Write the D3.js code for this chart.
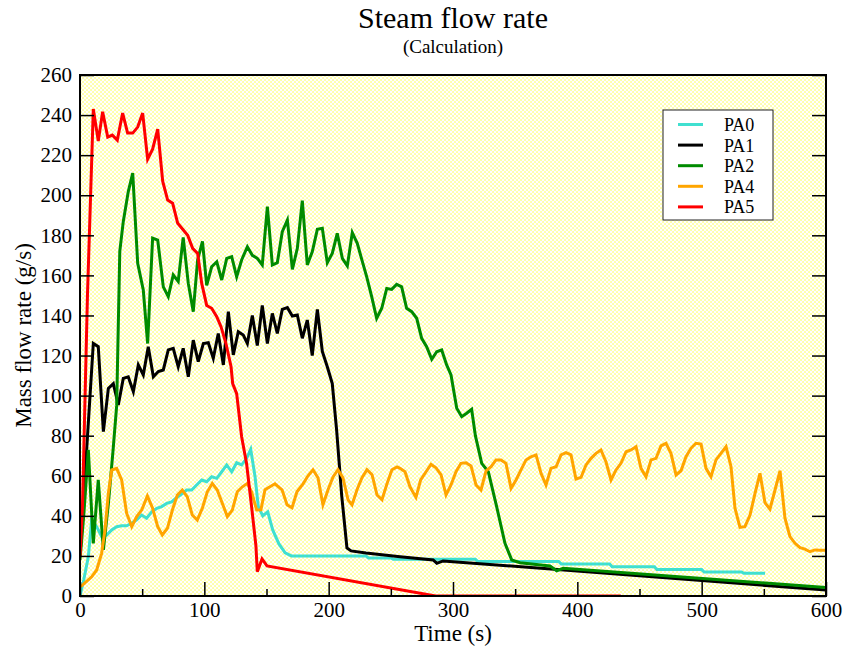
<!DOCTYPE html>
<html>
<head>
<meta charset="utf-8">
<script src="https://cdn.jsdelivr.net/npm/d3@7"></script>
<style>
  html, body { margin: 0; padding: 0; background: #fff; }
  svg text { font-family: "Liberation Serif", "Times New Roman", serif; }
</style>
</head>
<body>
<svg id="chart" width="843" height="647"></svg>
<script>
// ---- Data: steam mass flow rate (g/s) versus time (s) ----
const seriesNames = ["PA0", "PA1", "PA2", "PA4", "PA5"];
const seriesColors = ["#40E0D0", "#000000", "#008B00", "#FFA500", "#FF0000"];

const pa0Time = [0, 3, 6.7, 9.4, 13.4, 17.4, 21.4, 25.5, 29.5, 33.5, 37.5, 41.6, 45.6, 49.6, 53.6, 57.7, 61.7, 65.7, 69.7, 73.7, 77.8, 81.8, 85.8, 89.8, 93.8, 97.9, 101.9, 105.9, 110, 114, 118, 122, 126, 130, 134, 137.3, 140.8, 143.4, 147, 151, 155, 160, 165, 170, 230, 232, 250, 252, 318, 320, 385, 387, 426, 428, 462, 464, 500, 502, 532, 534, 551];
const pa0Flow = [0, 8, 19.6, 38, 34.6, 29.6, 30.4, 33, 34.6, 35, 35, 36.3, 38, 40.4, 38.8, 42, 43.7, 44.6, 46.2, 47, 49.2, 50.9, 52.9, 52.9, 55.4, 57.9, 57, 59.5, 58.7, 62, 65.4, 62, 66.5, 65.4, 68.7, 73.2, 59.5, 44.6, 40, 42, 33, 26, 21.5, 20, 20, 19, 19, 18.3, 18.3, 17.2, 17.2, 16, 16, 14.6, 14.6, 13.2, 13.2, 12, 12, 11.3, 11.3];

const pa1Time = [0, 10.7, 14.7, 18.8, 22.8, 26.8, 30.8, 34.8, 38.8, 42.9, 46.9, 50.9, 54.9, 59, 63, 67, 71, 75, 79, 83, 87.1, 91.1, 95.1, 99.2, 103.2, 107.2, 111.2, 115.3, 119.3, 123.3, 127.3, 131.3, 134.6, 138.6, 142.6, 146.6, 150.7, 154.7, 158.7, 162.7, 166.8, 170.8, 174.8, 178.8, 182.8, 186.8, 190.9, 194.9, 198.9, 202.9, 206.4, 210.5, 214.7, 218, 230, 257.4, 284, 287, 292, 600];
const pa1Flow = [20, 126, 124.4, 82, 103.6, 106, 95.3, 108.6, 109.4, 102, 115.3, 110.3, 124.4, 109.4, 112, 112.8, 122.8, 123.6, 114.4, 123.6, 109.4, 127.7, 117, 126, 126.4, 118.6, 131, 115.3, 141.9, 120.3, 131.9, 130.2, 126, 140, 125, 145, 126, 141, 131, 143, 143.9, 139.7, 140.2, 128.6, 137.7, 120, 143, 122, 114.4, 106, 82.8, 50, 24, 22.5, 21.5, 19.6, 18, 16.3, 17.5, 3];

const pa2Time = [0, 3, 6.7, 10.7, 14.7, 18.8, 22.8, 26.5, 29.5, 32, 34.8, 38.8, 42.4, 46.4, 50.9, 54.4, 58.4, 62.5, 67, 71, 75, 79, 83, 87.1, 91.1, 94.6, 98.5, 101.9, 105.9, 110, 114, 118, 122, 126, 130, 134.6, 138.6, 142.6, 146.6, 150.7, 154.7, 158.7, 162.7, 166.8, 170.8, 174.8, 178.8, 182.8, 186.8, 190.9, 194.9, 198.9, 202.9, 206.9, 211, 215, 219, 223, 226.6, 230.6, 234.6, 238.6, 242.7, 246.7, 250.7, 254.7, 258.7, 262.7, 266.8, 270.8, 274.8, 278.8, 282.9, 286.9, 290.9, 294.9, 298.4, 303, 307, 311, 315, 318, 323.1, 328.4, 335.1, 341.8, 347.2, 353.9, 378, 383.4, 388.7, 600];
const pa2Flow = [18, 40, 72.9, 26.3, 57.9, 23, 46, 72, 95, 172, 186.8, 201.7, 211, 166, 152.7, 126, 178.6, 177.6, 154.3, 149.4, 160.2, 157, 179, 156, 141.9, 167.7, 177, 155, 164.3, 166.8, 157.7, 168.5, 169.3, 159.3, 167.7, 174.3, 170, 168.5, 165.2, 194.3, 165.2, 166.3, 181.8, 187.6, 163, 173.5, 197.3, 165.2, 171.8, 183, 183.5, 166.3, 171, 181, 168.5, 164.7, 181.3, 176, 168, 159.3, 149.4, 138.6, 143.6, 153.5, 153, 155.5, 154.3, 143.6, 141.9, 138.6, 128.6, 124.4, 118.1, 121.9, 122.8, 115.3, 110.3, 93.7, 89.5, 91.2, 93.2, 80, 66.2, 62, 44.6, 26.3, 18, 16.6, 15, 12.6, 13.8, 4.3];

const pa4Time = [0, 1.3, 9.4, 13.4, 17.4, 20.1, 22.8, 25.5, 29.5, 33.5, 37.5, 41.6, 45.6, 49.6, 54.2, 58.4, 62.5, 66.2, 70.3, 74.3, 78.3, 82.3, 86.3, 90.3, 94.3, 98.4, 102.4, 106.4, 110.4, 114.5, 118.5, 122.5, 126.5, 130.6, 134.6, 138, 142.1, 145.5, 148.8, 152.8, 156.8, 162.5, 166.5, 170.5, 174.5, 179.4, 183.4, 187.4, 191.4, 195.4, 199.5, 203.5, 207.5, 211.5, 215.6, 218.8, 222.8, 226.8, 230.8, 234.9, 238.9, 242.9, 246.9, 250.9, 255, 257.4, 261.4, 265.4, 270.2, 274, 278.3, 282.3, 286.3, 290.4, 294.4, 298.4, 302.4, 306.4, 310.5, 314.5, 318.5, 322.5, 326.6, 330.6, 334.6, 338.6, 342.6, 346.7, 350.7, 354.7, 358.7, 362.7, 366.8, 370.8, 374.8, 378.8, 382.9, 386.9, 390.9, 394.9, 398.9, 403, 407, 411, 415, 419, 423, 427.1, 431.1, 435.1, 439.2, 443.2, 447.2, 451.2, 455.2, 459.3, 463.3, 467.3, 471.3, 475.3, 479.4, 483.4, 487.4, 491.4, 495.4, 499.5, 503.5, 507.5, 511.5, 515.5, 519.6, 523.6, 526.8, 530.8, 534.8, 538.9, 542.9, 546.9, 550.9, 554.9, 559, 563, 567, 571, 575.1, 579.1, 583.1, 587.1, 591.2, 595, 600];
const pa4Flow = [5, 5.1, 9.6, 13, 21.3, 33, 51.2, 62.9, 63.7, 57.9, 41.3, 34.6, 39.6, 42.9, 49.9, 43.8, 34.6, 30.4, 33.8, 42.9, 50.4, 52.9, 49.5, 40.4, 37.9, 43.8, 52, 56.2, 52.9, 46.2, 39.6, 42.9, 52, 54.5, 56.2, 52, 42.9, 43, 53, 54.5, 56, 53, 45.5, 44, 52, 56, 60, 63, 59, 45.5, 53, 59.4, 63, 59, 48, 45.5, 53, 59, 63, 60.5, 50.4, 48, 56, 63, 64.4, 63.7, 62, 54.5, 49.2, 57.9, 62, 65.7, 64, 60.4, 50.4, 55.4, 62, 66.2, 66.5, 64.9, 55.4, 52.9, 62.5, 64.5, 67.9, 67.9, 66.2, 53.7, 57.9, 62.9, 67.9, 69.5, 70.4, 61.2, 55.4, 63.7, 64.5, 70.4, 71.5, 70.4, 58.4, 59.2, 65.4, 68.7, 71.2, 72.9, 67, 57.9, 62.9, 66.2, 72, 72.9, 74.5, 63.7, 59.5, 67.9, 68.7, 74.9, 76.2, 71.2, 60.4, 62.5, 69.5, 73.7, 76.2, 75.8, 63.7, 59.5, 67.9, 71.2, 74.5, 64.5, 43.8, 34.3, 34.6, 40.4, 51.2, 61.2, 46.6, 43.3, 52.9, 62.5, 38.8, 29.6, 26.3, 24.1, 23.4, 22.1, 23, 22.8, 22.8];

const pa5Time = [0, 2, 6, 10.7, 14.7, 18.2, 22.3, 26, 30, 34.3, 38.3, 42.4, 46.4, 50.4, 54.4, 58.4, 62.5, 66.5, 70.5, 74.5, 78.6, 82.6, 86.6, 90.6, 94.6, 97.9, 101.9, 105.9, 110, 113.4, 117.4, 121.5, 122.8, 126, 130, 134, 138, 141.5, 142.6, 146.4, 150.4, 286, 435];
const pa5Flow = [19.6, 45, 150, 243, 227, 241.7, 229, 230, 227.5, 241, 231, 231, 234, 241, 218, 223, 233, 207, 197.6, 196, 186, 183, 180, 173.5, 171, 156, 145, 143.6, 139.4, 134.4, 126, 114.4, 106, 101, 79.5, 66, 44.6, 25, 12.1, 18.5, 15, 0, 0];

const xTicks = [0, 100, 200, 300, 400, 500, 600];
const xMinorTicks = [50, 150, 250, 350, 450, 550];
const yTicks = [0, 20, 40, 60, 80, 100, 120, 140, 160, 180, 200, 220, 240, 260];

const titleText = "Steam flow rate";
const subtitleText = "(Calculation)";
const xLabel = "Time (s)";
const yLabel = "Mass flow rate (g/s)";

// ---- Layout ----
const serif = "'Liberation Serif', 'Times New Roman', serif";
const svg = d3.select("#chart");
const plot = { left: 80, right: 826, top: 75, bottom: 596 };

const x = d3.scaleLinear().domain([0, 600]).range([plot.left, plot.right]);
const y = d3.scaleLinear().domain([0, 260]).range([plot.bottom, plot.top]);

// dotted yellow fill of the plotting area
const defs = svg.append("defs");
const pat = defs.append("pattern")
  .attr("id", "dots").attr("patternUnits", "userSpaceOnUse")
  .attr("x", plot.left).attr("y", plot.top)
  .attr("width", 4).attr("height", 4);
pat.append("rect").attr("width", 4).attr("height", 4).attr("fill", "#ffffff");
[[0.4, 0.4], [2.4, 2.4]].forEach(([px, py]) => {
  pat.append("rect").attr("x", px).attr("y", py).attr("width", 1.25).attr("height", 1.25)
    .attr("fill", "#ffff30");
});

defs.append("clipPath").attr("id", "plotClip")
  .append("rect")
  .attr("x", plot.left).attr("y", plot.top)
  .attr("width", plot.right - plot.left).attr("height", plot.bottom - plot.top);

svg.append("rect")
  .attr("x", plot.left).attr("y", plot.top)
  .attr("width", plot.right - plot.left).attr("height", plot.bottom - plot.top)
  .attr("fill", "url(#dots)");

// ---- Series ----
const series = [
  { name: seriesNames[0], color: seriesColors[0], t: pa0Time, v: pa0Flow },
  { name: seriesNames[1], color: seriesColors[1], t: pa1Time, v: pa1Flow },
  { name: seriesNames[2], color: seriesColors[2], t: pa2Time, v: pa2Flow },
  { name: seriesNames[3], color: seriesColors[3], t: pa4Time, v: pa4Flow },
  { name: seriesNames[4], color: seriesColors[4], t: pa5Time, v: pa5Flow }
];

const line = d3.line().x(d => x(d[0])).y(d => y(d[1]));
const linesG = svg.append("g").attr("clip-path", "url(#plotClip)");
series.forEach(s => {
  linesG.append("path")
    .datum(s.t.map((t, i) => [t, s.v[i]]))
    .attr("fill", "none")
    .attr("stroke", s.color)
    .attr("stroke-width", 3)
    .attr("stroke-linejoin", "miter")
    .attr("d", line);
});

// ---- Axes (ticks point into the plot) ----
const gx = svg.append("g").attr("transform", `translate(0,${plot.bottom})`)
  .call(d3.axisBottom(x).tickValues(xTicks).tickSizeInner(-14).tickSizeOuter(0).tickPadding(6).tickFormat(d3.format("d")));
const gxm = svg.append("g").attr("transform", `translate(0,${plot.bottom})`)
  .call(d3.axisBottom(x).tickValues(xMinorTicks).tickSizeInner(-7).tickSizeOuter(0).tickFormat(""));
const gy = svg.append("g").attr("transform", `translate(${plot.left},0)`)
  .call(d3.axisLeft(y).tickValues(yTicks).tickSizeInner(-14).tickSizeOuter(0).tickPadding(8).tickFormat(d3.format("d")));
const gyr = svg.append("g").attr("transform", `translate(${plot.right},0)`)
  .call(d3.axisRight(y).tickValues(yTicks).tickSizeInner(-14).tickSizeOuter(0).tickFormat(""));

[gx, gxm, gy, gyr].forEach(g => {
  g.attr("font-family", serif).attr("font-size", 21);
  g.select(".domain").remove();
  g.selectAll(".tick line").attr("stroke", "#000").attr("stroke-width", 1.5);
  g.selectAll(".tick text").attr("fill", "#000")
    .attr("font-family", serif).attr("font-size", 21);
});

// frame
svg.append("rect")
  .attr("x", plot.left).attr("y", plot.top)
  .attr("width", plot.right - plot.left).attr("height", plot.bottom - plot.top)
  .attr("fill", "none").attr("stroke", "#000").attr("stroke-width", 2);

// ---- Titles ----
const cx = (plot.left + plot.right) / 2;
const addText = (px, py, size, str) => svg.append("text")
  .attr("x", px).attr("y", py).attr("text-anchor", "middle")
  .attr("font-family", serif).attr("font-size", size).attr("fill", "#000").text(str);
addText(cx, 28, 30, titleText);
addText(cx, 53, 19, subtitleText);
addText(cx, 641, 23, xLabel);
svg.append("text")
  .attr("transform", `translate(31,${(plot.top + plot.bottom) / 2}) rotate(-90)`)
  .attr("text-anchor", "middle")
  .attr("font-family", serif).attr("font-size", 23).attr("fill", "#000").text(yLabel);

// ---- Legend ----
const legend = svg.append("g").attr("transform", "translate(663,110)");
legend.append("rect").attr("width", 110).attr("height", 110)
  .attr("fill", "#fff").attr("stroke", "#222").attr("stroke-width", 1);
series.forEach((s, i) => {
  const ly = 14.5 + i * 20.6;
  legend.append("line").attr("x1", 15).attr("x2", 40).attr("y1", ly).attr("y2", ly)
    .attr("stroke", s.color).attr("stroke-width", 3);
  legend.append("text").attr("x", 61).attr("y", ly + 6.5)
    .attr("font-family", serif).attr("font-size", 18).attr("fill", "#000").text(s.name);
});
</script>
</body>
</html>
